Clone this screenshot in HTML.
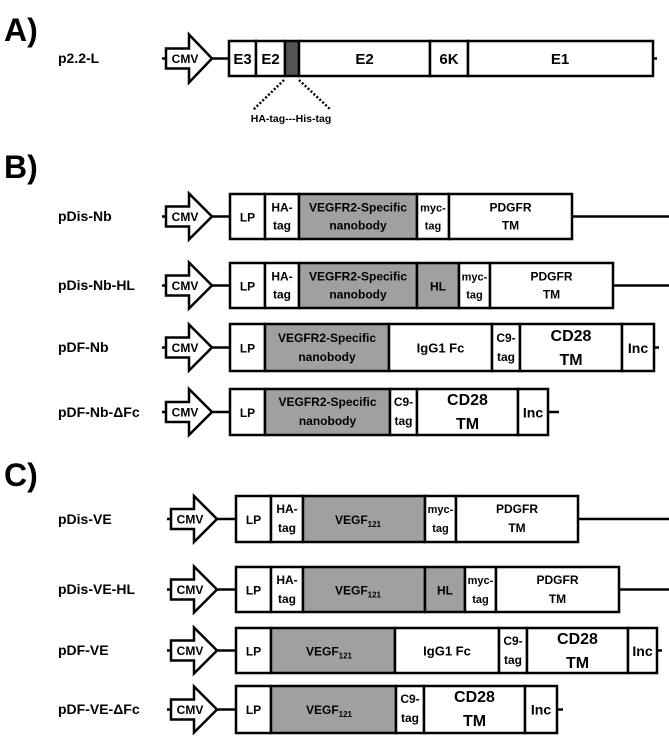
<!DOCTYPE html>
<html><head><meta charset="utf-8"><style>
html,body{margin:0;padding:0;background:#fff;}
svg{display:block;font-family:"Liberation Sans",sans-serif;font-weight:bold;}
.s{stroke:#000;stroke-width:2.5;fill:#fff;}
.g{stroke:#000;stroke-width:2.5;fill:#a0a0a0;}
.l{stroke:#000;stroke-width:2.5;}
.t{font-size:12px;text-anchor:middle;}
.sm{font-size:11px;text-anchor:middle;}
.big{font-size:16px;text-anchor:middle;}
.lab{font-size:14px;}
.hd{font-size:32px;}
</style></head><body>
<svg width="669" height="747" viewBox="0 0 669 747">
<defs>
<g id="cmv"><path d="M0,-10 H23 V-23 L46,0 L23,23 V10 H0 Z" fill="#fff" stroke="#000" stroke-width="2.5"/><text x="19" y="4.5" style="font-size:12px;text-anchor:middle;">CMV</text></g>
<g id="cmvA"><path d="M0,-10 H23 V-24 L46,0 L23,24 V10 H0 Z" fill="#fff" stroke="#000" stroke-width="2.5"/><text x="19" y="4.5" style="font-size:12px;text-anchor:middle;">CMV</text></g>
</defs>

<!-- A -->
<text x="4" y="41" class="hd">A)</text>
<text x="58" y="63" class="lab">p2.2-L</text>
<line class="l" x1="162" y1="58.5" x2="657" y2="58.5"/>
<use href="#cmvA" x="166" y="58.5"/>
<rect class="s" x="229" y="41" width="27" height="35"/>
<rect class="s" x="256" y="41" width="29" height="35"/>
<rect x="285" y="41" width="14" height="35" fill="#555" stroke="#000" stroke-width="2.5"/>
<rect class="s" x="299" y="41" width="131" height="35"/>
<rect class="s" x="430" y="41" width="38" height="35"/>
<rect class="s" x="468" y="41" width="185" height="35"/>
<text x="242.5" y="64" class="big" style="font-size:15px">E3</text>
<text x="270.5" y="64" class="big" style="font-size:15px">E2</text>
<text x="364.5" y="64" class="big" style="font-size:15px">E2</text>
<text x="449" y="64" class="big" style="font-size:15px">6K</text>
<text x="560" y="64" class="big" style="font-size:15px">E1</text>
<line x1="284" y1="80" x2="253" y2="110" stroke="#000" stroke-width="2.5" stroke-dasharray="2,2"/>
<line x1="299" y1="80" x2="331" y2="110" stroke="#000" stroke-width="2.5" stroke-dasharray="2,2"/>
<text x="291" y="122" style="font-size:10.5px;text-anchor:middle;">HA-tag---His-tag</text>

<!-- B -->
<text x="4" y="178" class="hd">B)</text>

<!-- pDis-Nb -->
<text x="58" y="221" class="lab">pDis-Nb</text>
<line class="l" x1="162" y1="216.5" x2="669" y2="216.5"/>
<use href="#cmv" x="166" y="216.5"/>
<rect class="s" x="230" y="194" width="35" height="45"/>
<rect class="s" x="265" y="194" width="34" height="45"/>
<rect class="g" x="299" y="194" width="118" height="45"/>
<rect class="s" x="417" y="194" width="32" height="45"/>
<rect class="s" x="449" y="194" width="123" height="45"/>
<text x="247.5" y="221.5" class="t">LP</text>
<text x="282" y="211.5" class="t">HA-</text><text x="282" y="229.5" class="t">tag</text>
<text x="358" y="211.5" class="t">VEGFR2-Specific</text><text x="358" y="229.5" class="t">nanobody</text>
<text x="433" y="211.5" class="sm">myc-</text><text x="433" y="229.5" class="sm">tag</text>
<text x="510.5" y="211.5" class="t">PDGFR</text><text x="510.5" y="229.5" class="t">TM</text>

<!-- pDis-Nb-HL -->
<text x="58" y="290" class="lab">pDis-Nb-HL</text>
<line class="l" x1="162" y1="285.5" x2="669" y2="285.5"/>
<use href="#cmv" x="166" y="285.5"/>
<rect class="s" x="230" y="263" width="35" height="45"/>
<rect class="s" x="265" y="263" width="34" height="45"/>
<rect class="g" x="299" y="263" width="118" height="45"/>
<rect class="g" x="417" y="263" width="42" height="45"/>
<rect class="s" x="459" y="263" width="31" height="45"/>
<rect class="s" x="490" y="263" width="123" height="45"/>
<text x="247.5" y="290.5" class="t">LP</text>
<text x="282" y="280.5" class="t">HA-</text><text x="282" y="298.5" class="t">tag</text>
<text x="358" y="280.5" class="t">VEGFR2-Specific</text><text x="358" y="298.5" class="t">nanobody</text>
<text x="438" y="290.5" class="t">HL</text>
<text x="474.5" y="280.5" class="sm">myc-</text><text x="474.5" y="298.5" class="sm">tag</text>
<text x="551.5" y="280.5" class="t">PDGFR</text><text x="551.5" y="298.5" class="t">TM</text>

<!-- pDF-Nb -->
<text x="58" y="352" class="lab">pDF-Nb</text>
<line class="l" x1="162" y1="347.5" x2="659" y2="347.5"/>
<use href="#cmv" x="166" y="347.5"/>
<rect class="s" x="230" y="324" width="35" height="47"/>
<rect class="g" x="265" y="324" width="124" height="47"/>
<rect class="s" x="389" y="324" width="103" height="47"/>
<rect class="s" x="492" y="324" width="28" height="47"/>
<rect class="s" x="520" y="324" width="102" height="47"/>
<rect class="s" x="622" y="324" width="32" height="47"/>
<text x="247.5" y="352.5" class="t">LP</text>
<text x="327" y="342" class="t">VEGFR2-Specific</text><text x="327" y="361" class="t">nanobody</text>
<text x="440.5" y="352.5" class="t" style="font-size:13px">IgG1 Fc</text>
<text x="506" y="342" class="t">C9-</text><text x="506" y="361" class="t">tag</text>
<text x="571" y="341" class="big">CD28</text><text x="571" y="365" class="big">TM</text>
<text x="638" y="353" class="t" style="font-size:14px">Inc</text>

<!-- pDF-Nb-dFc -->
<text x="58" y="417" class="lab">pDF-Nb-ΔFc</text>
<line class="l" x1="162" y1="412" x2="559" y2="412"/>
<use href="#cmv" x="166" y="412"/>
<rect class="s" x="230" y="389" width="35" height="46"/>
<rect class="g" x="265" y="389" width="125" height="46"/>
<rect class="s" x="390" y="389" width="27" height="46"/>
<rect class="s" x="417" y="389" width="101" height="46"/>
<rect class="s" x="518" y="389" width="30" height="46"/>
<text x="247.5" y="417" class="t">LP</text>
<text x="327.5" y="406" class="t">VEGFR2-Specific</text><text x="327.5" y="425" class="t">nanobody</text>
<text x="403.5" y="406" class="t">C9-</text><text x="403.5" y="425" class="t">tag</text>
<text x="467.5" y="405" class="big">CD28</text><text x="467.5" y="429" class="big">TM</text>
<text x="533" y="417.5" class="t" style="font-size:14px">Inc</text>

<!-- C -->
<text x="4" y="486" class="hd">C)</text>

<!-- pDis-VE -->
<text x="58" y="524" class="lab">pDis-VE</text>
<line class="l" x1="167" y1="519" x2="669" y2="519"/>
<use href="#cmv" x="171" y="519"/>
<rect class="s" x="236" y="496" width="35" height="46"/>
<rect class="s" x="271" y="496" width="32" height="46"/>
<rect class="g" x="303" y="496" width="122" height="46"/>
<rect class="s" x="425" y="496" width="31" height="46"/>
<rect class="s" x="456" y="496" width="122" height="46"/>
<text x="253.5" y="524" class="t">LP</text>
<text x="287" y="513" class="t">HA-</text><text x="287" y="532" class="t">tag</text>
<text x="358" y="524" class="t">VEGF<tspan style="font-size:8px" dy="3">121</tspan></text>
<text x="440.5" y="513" class="sm">myc-</text><text x="440.5" y="532" class="sm">tag</text>
<text x="517" y="513" class="t">PDGFR</text><text x="517" y="532" class="t">TM</text>

<!-- pDis-VE-HL -->
<text x="58" y="594" class="lab">pDis-VE-HL</text>
<line class="l" x1="167" y1="589.5" x2="669" y2="589.5"/>
<use href="#cmv" x="171" y="589.5"/>
<rect class="s" x="236" y="567" width="35" height="45"/>
<rect class="s" x="271" y="567" width="32" height="45"/>
<rect class="g" x="303" y="567" width="122" height="45"/>
<rect class="g" x="425" y="567" width="40" height="45"/>
<rect class="s" x="465" y="567" width="31" height="45"/>
<rect class="s" x="496" y="567" width="123" height="45"/>
<text x="253.5" y="594.5" class="t">LP</text>
<text x="287" y="584" class="t">HA-</text><text x="287" y="603" class="t">tag</text>
<text x="358" y="594.5" class="t">VEGF<tspan style="font-size:8px" dy="3">121</tspan></text>
<text x="445" y="594.5" class="t">HL</text>
<text x="480.5" y="584" class="sm">myc-</text><text x="480.5" y="603" class="sm">tag</text>
<text x="557.5" y="584" class="t">PDGFR</text><text x="557.5" y="603" class="t">TM</text>

<!-- pDF-VE -->
<text x="58" y="655" class="lab">pDF-VE</text>
<line class="l" x1="167" y1="650.5" x2="662" y2="650.5"/>
<use href="#cmv" x="171" y="650.5"/>
<rect class="s" x="236" y="628" width="35" height="45"/>
<rect class="g" x="271" y="628" width="124" height="45"/>
<rect class="s" x="395" y="628" width="104" height="45"/>
<rect class="s" x="499" y="628" width="28" height="45"/>
<rect class="s" x="527" y="628" width="101" height="45"/>
<rect class="s" x="628" y="628" width="29" height="45"/>
<text x="253.5" y="655.5" class="t">LP</text>
<text x="329" y="655.5" class="t">VEGF<tspan style="font-size:8px" dy="3">121</tspan></text>
<text x="447" y="655.5" class="t" style="font-size:13px">IgG1 Fc</text>
<text x="513" y="645" class="t">C9-</text><text x="513" y="664" class="t">tag</text>
<text x="577.5" y="644" class="big">CD28</text><text x="577.5" y="668" class="big">TM</text>
<text x="642.5" y="656" class="t" style="font-size:14px">Inc</text>

<!-- pDF-VE-dFc -->
<text x="58" y="714" class="lab">pDF-VE-ΔFc</text>
<line class="l" x1="167" y1="709.5" x2="563" y2="709.5"/>
<use href="#cmv" x="171" y="709.5"/>
<rect class="s" x="236" y="686" width="35" height="47"/>
<rect class="g" x="271" y="686" width="125" height="47"/>
<rect class="s" x="396" y="686" width="28" height="47"/>
<rect class="s" x="424" y="686" width="101" height="47"/>
<rect class="s" x="525" y="686" width="32" height="47"/>
<text x="253.5" y="714" class="t">LP</text>
<text x="329" y="714" class="t">VEGF<tspan style="font-size:8px" dy="3">121</tspan></text>
<text x="410" y="703" class="t">C9-</text><text x="410" y="722" class="t">tag</text>
<text x="474.5" y="702" class="big">CD28</text><text x="474.5" y="726" class="big">TM</text>
<text x="541" y="714.5" class="t" style="font-size:14px">Inc</text>
</svg>
</body></html>
